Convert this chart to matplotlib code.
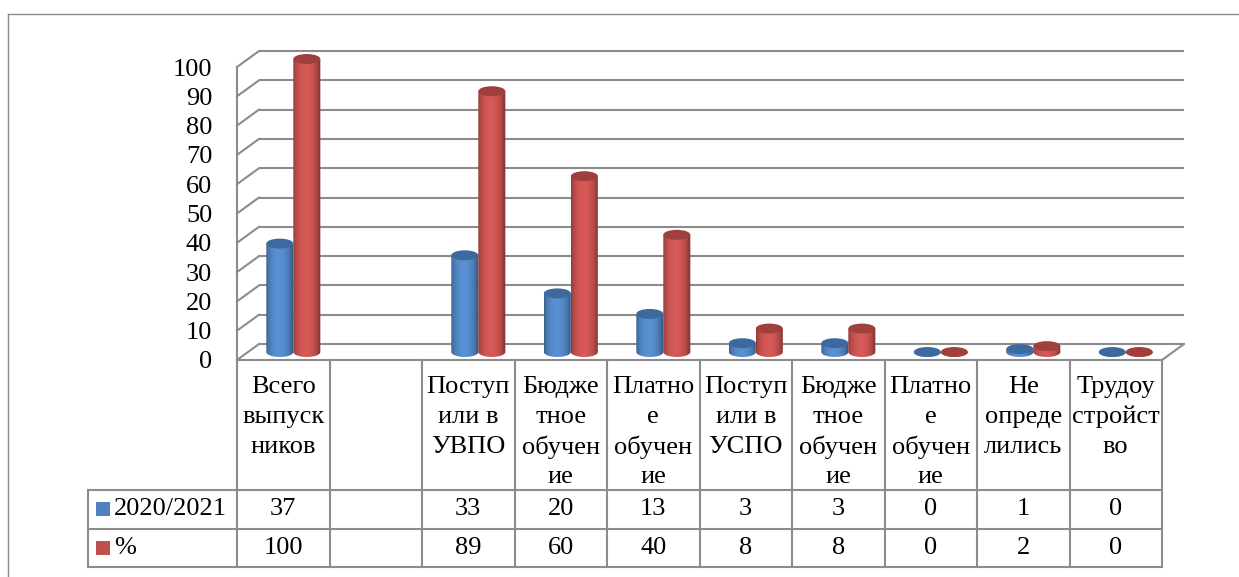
import numpy as np
import matplotlib
matplotlib.use("Agg")
import matplotlib.pyplot as plt
from matplotlib.path import Path
from matplotlib.patches import Ellipse, Rectangle
from matplotlib.lines import Line2D
from matplotlib.colors import to_rgb

plt.rcParams['font.family'] = ['Liberation Serif', 'DejaVu Serif']

# ---------------- data ----------------
categories = ["Всего\nвыпуск\nников", "", "Поступ\nили в\nУВПО", "Бюдже\nтное\nобучен\nие",
              "Платно\nе\nобучен\nие", "Поступ\nили в\nУСПО", "Бюдже\nтное\nобучен\nие",
              "Платно\nе\nобучен\nие", "Не\nопреде\nлились", "Трудоу\nстройст\nво"]
series_names = ["2020/2021", "%"]
values_2020 = [37, None, 33, 20, 13, 3, 3, 0, 1, 0]
values_pct = [100, None, 89, 60, 40, 8, 8, 0, 2, 0]
series_values = [values_2020, values_pct]
yticks = list(range(0, 101, 10))

# ---------------- layout ----------------
W, H = 1239, 577
DPI = 100
fig = plt.figure(figsize=(W / DPI, H / DPI), dpi=DPI)

X0, SX = 237.0, 92.5      # px of category 0 and px per category
Y0, SY = 360.0, 2.93      # px of value 0 and px per value unit
DX, DY = 22.0 / SX, 16.0 / SY   # depth offset in data units
n = len(categories)

def fig_rect(xl, xr, yb, yt):
    lpx, rpx = X0 + xl * SX, X0 + xr * SX
    bpx, tpx = Y0 - yb * SY, Y0 - yt * SY
    return [lpx / W, 1 - bpx / H, (rpx - lpx) / W, (bpx - tpx) / H]

xlim = (-0.05, n + 0.4)
ylim = (-1.0, 108.0)
ax = fig.add_axes(fig_rect(xlim[0], xlim[1], ylim[0], ylim[1]))
ax.patch.set_visible(False)
for s in ax.spines.values():
    s.set_visible(False)

GRID = '#8C8C8C'
LW = 1.5

# back wall gridlines + side wall gridlines
for v in yticks:
    ax.plot([DX, n + DX], [v + DY, v + DY], color=GRID, lw=LW, zorder=1, solid_capstyle='butt')
    ax.plot([0, DX], [v, v + DY], color=GRID, lw=LW, zorder=1)
# vertical axis line (front left edge)
ax.plot([0, 0], [0, 100], color=GRID, lw=LW, zorder=1)
# floor right edge
ax.plot([n, n + DX], [0, DY], color=GRID, lw=LW, zorder=1)

colors = ['#4F81BD', '#C0504D']
tops = ['#3D6A9E', '#A03F3C']
A = 0.146          # half width of cylinder (category units)
B = 1.7            # half height of ellipse (value units)
offsets = [-0.146, 0.146]
center_base = 0.49

def gradient(col):
    r = np.array(to_rgb(col))
    t = np.linspace(0, 1, 64)
    f = 0.72 + 0.40 * np.sin(np.pi * np.clip(t * 1.08, 0, 1)) ** 0.6
    img = np.clip(r[None, :] * f[:, None], 0, 1)
    return img[None, :, :]

z = 3
for i in range(n):
    for k in range(2):
        v = series_values[k][i]
        if v is None:
            continue
        c = i + center_base + offsets[k] + DX / 2
        base = DY / 2
        top = base + v
        th = np.linspace(np.pi, 2 * np.pi, 40)
        verts = [(c - A, top), (c - A, base)]
        verts += [(c + A * np.cos(t), base + B * np.sin(t)) for t in th]
        verts += [(c + A, top), (c - A, top)]
        path = Path(verts)
        im = ax.imshow(gradient(colors[k]), extent=(c - A, c + A, base - B, top),
                       aspect='auto', interpolation='bilinear', zorder=z)
        im.set_clip_path(path, ax.transData)
        ax.add_patch(Ellipse((c, top), 2 * A, 2 * B, facecolor=tops[k],
                             edgecolor='none', zorder=z + 0.5))
        z += 1

ax.set_xlim(*xlim)
ax.set_ylim(*ylim)
ax.set_xticks([])
ax.set_yticks(yticks)
ax.set_yticklabels([str(t) for t in yticks])
ax.tick_params(axis='y', length=0, pad=14.5, labelsize=19)

# ---------------- data table ----------------
ROW = 38.5
HEAD = 130.0 / ROW
tab_left = -1.61
tax = fig.add_axes([(X0 + tab_left * SX) / W, 1 - 567.0 / H,
                    (n - tab_left) * SX / W, (567.0 - 360.0) / H])
tax.set_xlim(tab_left, n)
tax.set_ylim(0, 2 + HEAD)
tax.axis('off')

TL = dict(color=GRID, lw=LW, clip_on=False, solid_capstyle='projecting')
# horizontal lines
tax.plot([0, n], [2 + HEAD, 2 + HEAD], **TL)
for y in [2, 1, 0]:
    tax.plot([tab_left, n], [y, y], **TL)
# vertical lines
for x in range(n + 1):
    tax.plot([x, x], [0, 2 + HEAD], **TL)
tax.plot([tab_left, tab_left], [0, 2], **TL)

FS = 19
for i, lab in enumerate(categories):
    if not lab:
        continue
    for j, line in enumerate(lab.split('\n')):
        ypx = 27.0 + 30.0 * j
        tax.text(i + 0.5, 2 + HEAD - ypx / ROW, line, ha='center', va='center', fontsize=FS)

for k in range(2):
    yc = 1.5 - k
    for i in range(n):
        v = series_values[k][i]
        if v is None:
            continue
        tax.text(i + 0.5, yc, str(v), ha='center', va='center', fontsize=FS)
    # legend key + name
    tax.add_patch(Rectangle((tab_left + 8.0 / SX, yc - 7.0 / ROW), 14.0 / SX, 14.0 / ROW,
                            facecolor=colors[k], edgecolor='none', clip_on=False))
    tax.text(tab_left + 26.0 / SX, yc, series_names[k], ha='left', va='center', fontsize=FS)

# outer chart frame (top and left visible)
fig.add_artist(Line2D([8 / W, 1.0], [1 - 14 / H, 1 - 14 / H], transform=fig.transFigure,
                      color='#8A8A8A', lw=1.0))
fig.add_artist(Line2D([8 / W, 8 / W], [1 - 14 / H, 0.0], transform=fig.transFigure,
                      color='#8A8A8A', lw=1.0))

fig.savefig('out.png', dpi=DPI)
